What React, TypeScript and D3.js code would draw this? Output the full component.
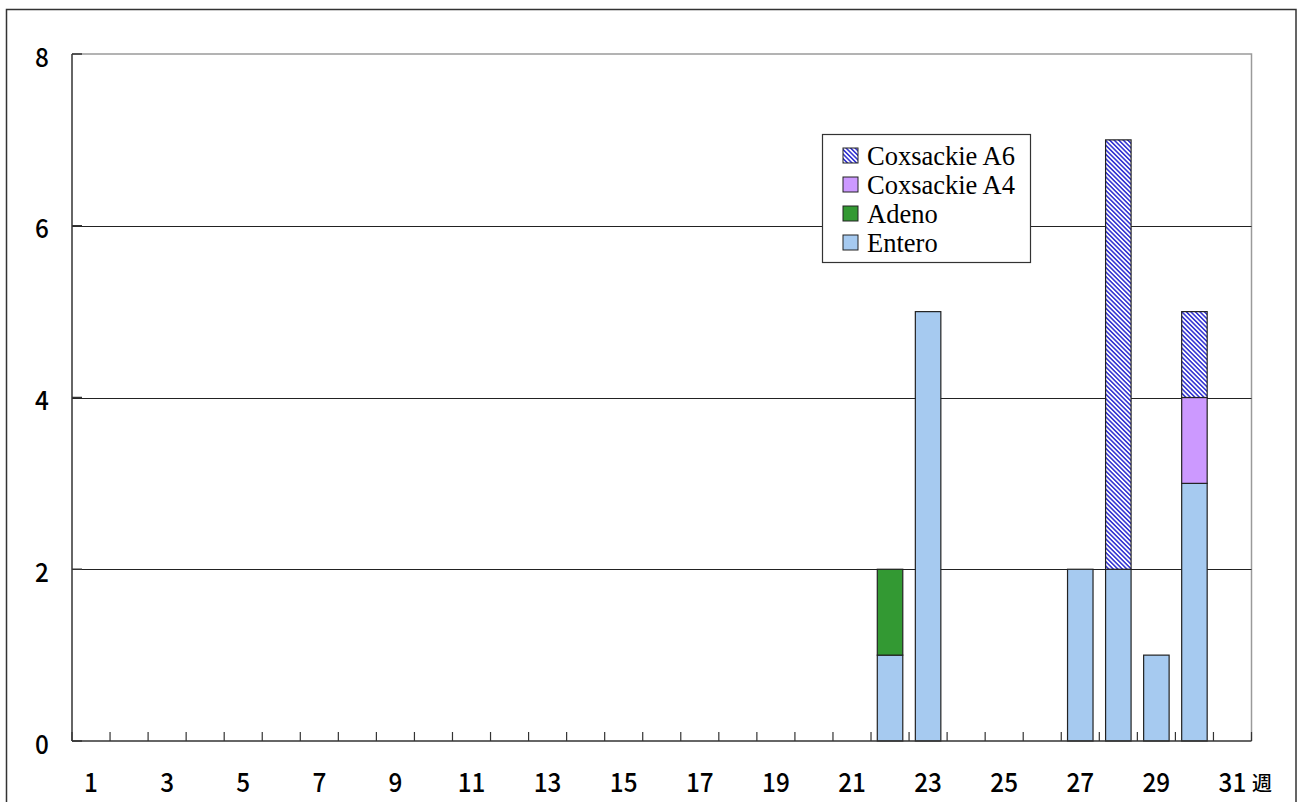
import React from "react";
import * as d3 from "d3";

// Weekly detections by virus type, weeks 1–31
const weeks: number[] = d3.range(1, 32);
const entero: number[] = weeks.map((w) => ({ 22: 1, 23: 5, 27: 2, 28: 2, 29: 1, 30: 3 } as Record<number, number>)[w] ?? 0);
const adeno: number[] = weeks.map((w) => ({ 22: 1 } as Record<number, number>)[w] ?? 0);
const coxA4: number[] = weeks.map((w) => ({ 30: 1 } as Record<number, number>)[w] ?? 0);
const coxA6: number[] = weeks.map((w) => ({ 28: 5, 30: 1 } as Record<number, number>)[w] ?? 0);
const yTicks: number[] = [0, 2, 4, 6, 8];
const xTickLabels: number[] = [1, 3, 5, 7, 9, 11, 13, 15, 17, 19, 21, 23, 25, 27, 29, 31];

const seriesKeys = ["entero", "adeno", "coxA4", "coxA6"] as const;
const seriesNames: Record<string, string> = {
  entero: "Entero",
  adeno: "Adeno",
  coxA4: "Coxsackie A4",
  coxA6: "Coxsackie A6",
};
const seriesFill: Record<string, string> = {
  entero: "#A6CAF0",
  adeno: "#339933",
  coxA4: "#CC99FF",
  coxA6: "url(#hatchA6)",
};

const W = 1297;
const H = 802;
const plot = { left: 72, top: 54, right: 1251.5, bottom: 741 };

export default function App() {
  const x = d3
    .scaleBand<number>()
    .domain(weeks)
    .range([plot.left, plot.right])
    .paddingInner(0)
    .paddingOuter(0);
  const y = d3.scaleLinear().domain([0, 8]).range([plot.bottom, plot.top]);

  const rows = weeks.map((w, i) => ({
    week: w,
    entero: entero[i],
    adeno: adeno[i],
    coxA4: coxA4[i],
    coxA6: coxA6[i],
  }));
  const stacked = d3.stack<any>().keys(seriesKeys as unknown as string[])(rows);

  const step = x.step();
  const barW = step * 0.67;

  const axisFont = "'Noto Sans CJK JP', 'Liberation Sans', sans-serif";
  const legendFont = "'Liberation Serif', 'DejaVu Serif', serif";

  const legendItems = ["coxA6", "coxA4", "adeno", "entero"];
  const legend = { x: 822, y: 134, w: 208, h: 128 };

  // axis label drawn slightly condensed, like a gothic face
  const axisLabel = (cx: number, cy: number, s: string | number, size = 27) => (
    <text
      transform={`translate(${cx},${cy}) scale(0.9,1)`}
      dy="0.36em"
      textAnchor="middle"
      fontFamily={axisFont}
      fontSize={size}
      fontWeight={500}
      fill="#000"
    >
      {s}
    </text>
  );

  return (
    <svg
      width={W}
      height={H}
      style={{ position: "absolute", left: 0, top: 0, background: "#fff" }}
    >
      <defs>
        <pattern
          id="hatchA6"
          patternUnits="userSpaceOnUse"
          width={3.2}
          height={3.2}
          patternTransform="rotate(-45)"
        >
          <rect width={3.2} height={3.2} fill="#fff" />
          <line x1={0.8} y1={0} x2={0.8} y2={3.2} stroke="#2a2ad0" strokeWidth={1.5} />
        </pattern>
      </defs>

      {/* outer frame */}
      <rect x={6.5} y={9.5} width={1289.5} height={H + 10} fill="#fff" stroke="#333" strokeWidth={1.5} />

      {/* plot frame top/right */}
      <path
        d={`M${plot.left},${plot.top}H${plot.right}V${plot.bottom}`}
        fill="none"
        stroke="#9a9a9a"
        strokeWidth={1.5}
      />

      {/* gridlines */}
      {yTicks
        .filter((t) => t > 0 && t < 8)
        .map((t) => (
          <line
            key={t}
            x1={plot.left}
            x2={plot.right}
            y1={Math.round(y(t)) + 0.5}
            y2={Math.round(y(t)) + 0.5}
            stroke="#222"
            strokeWidth={1}
          />
        ))}

      {/* bars */}
      {stacked.map((layer) =>
        layer.map((d, i) => {
          const h = y(d[0]) - y(d[1]);
          if (h <= 0) return null;
          const cx = (x(weeks[i]) as number) + step / 2;
          return (
            <rect
              key={layer.key + "-" + i}
              x={cx - barW / 2}
              y={y(d[1])}
              width={barW}
              height={h}
              fill={seriesFill[layer.key]}
              stroke="#222"
              strokeWidth={1.2}
            />
          );
        })
      )}

      {/* y axis */}
      <line x1={plot.left} x2={plot.left} y1={plot.top} y2={plot.bottom} stroke="#333" strokeWidth={1.5} />
      {yTicks.map((t) => (
        <g key={t}>
          <line x1={plot.left} x2={plot.left + 10} y1={y(t)} y2={y(t)} stroke="#333" strokeWidth={1.5} />
          {axisLabel(42, y(t) + 3, t)}
        </g>
      ))}

      {/* x axis */}
      <line x1={plot.left} x2={plot.right} y1={plot.bottom} y2={plot.bottom} stroke="#333" strokeWidth={1.5} />
      {weeks.concat([32]).map((w, i) => {
        const px = plot.left + i * step;
        return (
          <line key={w} x1={px} x2={px} y1={plot.bottom} y2={plot.bottom - 9} stroke="#333" strokeWidth={1.2} />
        );
      })}
      {xTickLabels.map((w) => (
        <g key={w}>{axisLabel((x(w) as number) + step / 2, 782, w)}</g>
      ))}
      <text x={1252} y={784} dy="0.36em" textAnchor="start" fontFamily={axisFont} fontSize={20} fontWeight={500} fill="#000">
        週
      </text>

      {/* legend */}
      <rect
        x={legend.x + 0.5}
        y={legend.y + 0.5}
        width={legend.w}
        height={legend.h}
        fill="#fff"
        stroke="#333"
        strokeWidth={1.2}
      />
      {legendItems.map((k, i) => {
        const cy = 155.5 + i * 29;
        return (
          <g key={k}>
            <rect x={843} y={cy - 7.5} width={15} height={15} fill={seriesFill[k]} stroke="#222" strokeWidth={1} />
            <text x={867} y={cy} dy="0.35em" fontFamily={legendFont} fontSize={26.5} fill="#000">
              {seriesNames[k]}
            </text>
          </g>
        );
      })}
    </svg>
  );
}
